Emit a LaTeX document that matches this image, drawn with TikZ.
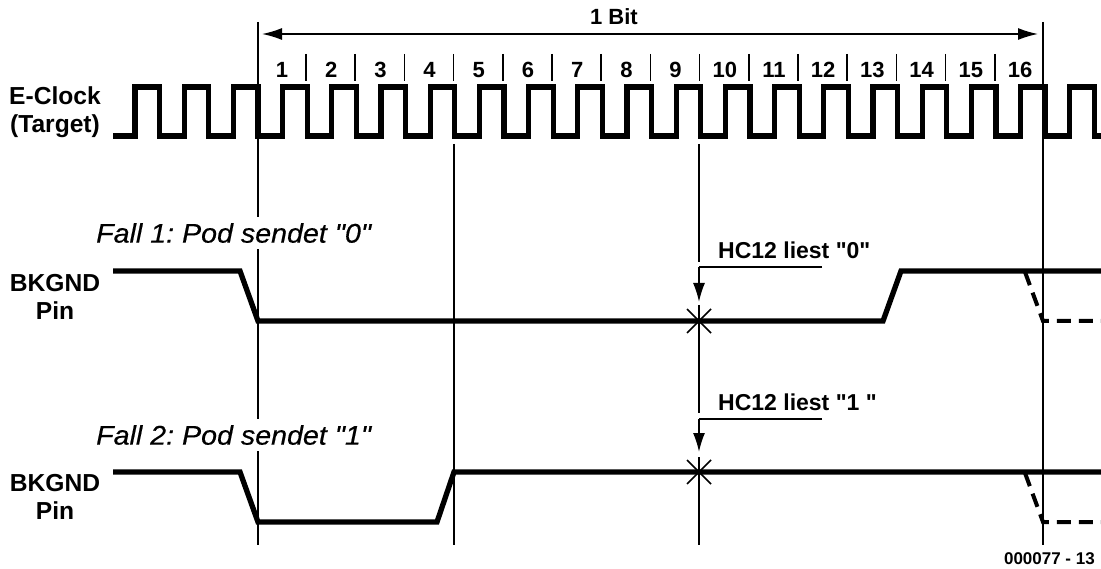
\documentclass[tikz,border=0pt]{standalone}
\usepackage{fontspec}
\setmainfont{Liberation Sans}[Ligatures=TeXOff]
\usetikzlibrary{arrows.meta}
\tikzset{
  thinline/.style={line width=1.6pt},
  signal/.style={line width=5.3pt,miter limit=10},
  maybe/.style={line width=4pt,dash pattern=on 14pt off 8pt},
  lbl/.style={font=\fontsize{22}{27}\selectfont\bfseries,inner sep=0pt,align=center},
  sidelbl/.style={font=\fontsize{24.6}{28}\selectfont\bfseries,inner sep=0pt,align=center},
  readlbl/.style={font=\fontsize{23}{27}\selectfont\bfseries,inner sep=0pt,anchor=west},
  falltext/.style={font=\fontsize{27}{28}\selectfont\itshape\frenchspacing\addfontfeature{FakeStretch=1.06,FakeBold=0.4},inner sep=0pt,anchor=west,fill=white,minimum height=32pt},
  readtip/.style={-{Latex[length=19pt,width=12pt]}}
}
\begin{document}
\begin{tikzpicture}[x=1pt,y=-1pt]
    \useasboundingbox (0,0) rectangle (1101,569);
    \def\per{49.2}
    \def\hi{87}
    \def\lo{136}
    % vertical markers
    \draw[thinline] (258,22) -- (258,545);
    \draw[thinline] (1043,22) -- (1043,545);
    \draw[thinline] (454,144) -- (454,545);
    \draw[thinline] (699,144) -- (699,262);
    \draw[thinline] (699,305) -- (699,413);
    \draw[thinline] (699,457) -- (699,545);
    % 1 Bit
    \draw[thinline,{Latex[length=20pt,width=12pt]}-{Latex[length=20pt,width=12pt]}] (262,34) -- (1038,34);
    \node[lbl] (bit) at (614,17) {1 Bit};
    % counting
    \foreach \n in {1,...,16} {
      \node[lbl] (n\n) at ({282+\per*(\n-1)},70) {\n};
    }
    \foreach \n in {1,...,15} {
      \draw[thinline] ({306+\per*(\n-1)},54) -- ({306+\per*(\n-1)},81);
    }
    % clock
    \draw[signal] (113,\lo)
      \foreach \k in {0,...,19} {
        -- ({135+\per*\k},\lo) -- ({135+\per*\k},\hi)
        -- ({159.6+\per*\k},\hi) -- ({159.6+\per*\k},\lo)
      } -- (1101,\lo);
    \node[sidelbl] (eclock) at (55,112) {E-Clock\\(Target)};
    % case 1
    \node[falltext] (fall1) at (96,233) {Fall 1: Pod sendet "0"};
    \draw[signal] (113,271) -- (240,271) -- (258,321) -- (883,321) -- (901,271) -- (1101,271);
    \draw[maybe] (1025,272) -- (1043,321) -- (1101,321);
    \node[sidelbl] (pin1) at (55,297) {BKGND\\Pin};
    \draw[thinline] (822,267) -- (699,267);
    \draw[thinline,readtip] (699,267) -- (699,302);
    \draw[thinline] (687,309) -- (711,333) (687,333) -- (711,309);
    \node[readlbl] (read0) at (718,250) {HC12 liest "0"};
    % case 2
    \node[falltext] (fall2) at (96,435) {Fall 2: Pod sendet "1"};
    \draw[signal] (113,472) -- (240,472) -- (258,522) -- (437,522) -- (454,472) -- (1101,472);
    \draw[maybe] (1025,473) -- (1043,522) -- (1101,522);
    \node[sidelbl] (pin2) at (55,497) {BKGND\\Pin};
    \draw[thinline] (822,419) -- (699,419);
    \draw[thinline,readtip] (699,419) -- (699,452);
    \draw[thinline] (687,460) -- (711,484) (687,484) -- (711,460);
    \node[readlbl] (read1) at (718,402) {HC12 liest "1 "};
    \node[font=\fontsize{17}{18}\selectfont\bfseries,inner sep=0pt,anchor=east] (code) at (1095,559) {000077 - 13};
\end{tikzpicture}
\end{document}
